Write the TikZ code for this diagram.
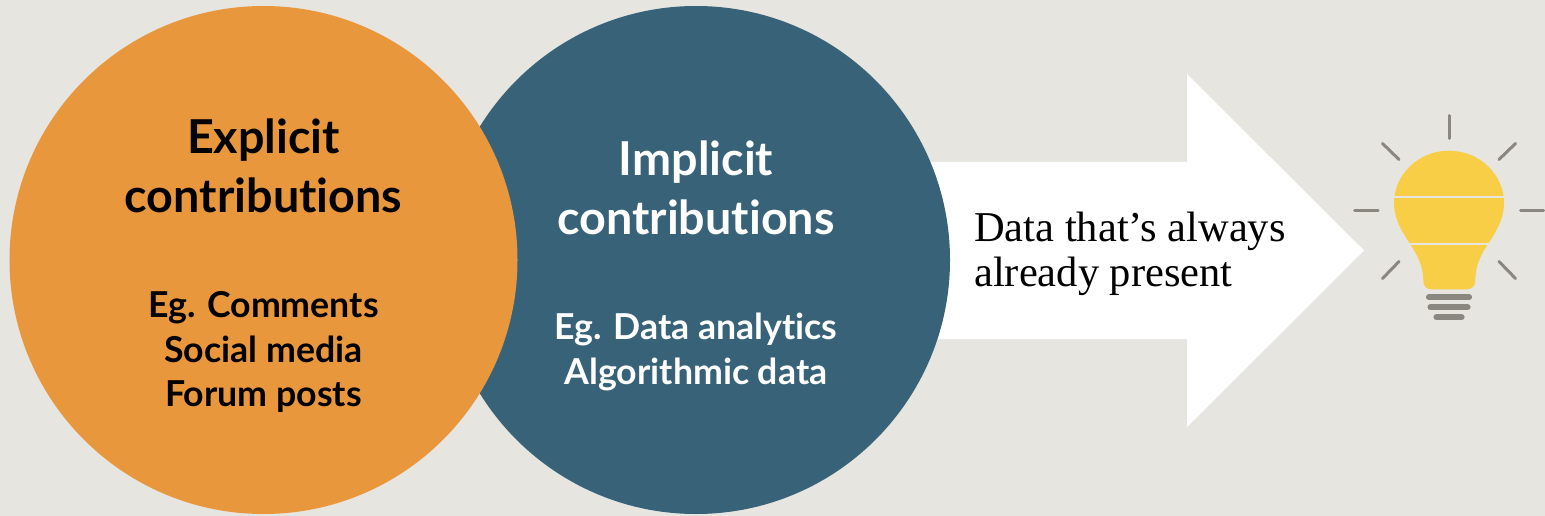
\documentclass[tikz,border=0pt]{standalone}
\usepackage{fontspec}
\setmainfont[Ligatures=CommonOff]{Lato}
\newfontfamily\bodyserif{Liberation Serif}
\definecolor{bgc}{HTML}{E6E5E0}
\definecolor{orangec}{HTML}{E9973D}
\definecolor{bluec}{HTML}{376278}
\definecolor{bulbc}{HTML}{F7CE46}
\definecolor{grayc}{HTML}{8A8780}
\tikzset{
  disc/.style={circle,minimum size=508pt,inner sep=0pt,draw=none},
  headtext/.style={font=\fontsize{46.7}{59}\selectfont\bfseries,align=center,inner sep=0pt},
  subtext/.style={font=\fontsize{35.7}{44.5}\selectfont\bfseries,align=center,inner sep=0pt},
  ray/.style={draw=grayc,line width=3pt,line cap=round},
  basebar/.style={draw=grayc,line cap=round},
  seam/.style={draw=bgc,line width=2pt}
}
\begin{document}
\begin{tikzpicture}[x=1pt,y=-1pt]
\useasboundingbox (0,0) rectangle (1545,516);
\fill[bgc] (0,0) rectangle (1545,516);
% arrow
\fill[white] (900,162) -- (1187,162) -- (1187,74) -- (1364,250.5) -- (1187,427) -- (1187,339) -- (900,339) -- cycle;
\node[disc,fill=bluec] (implicit) at (696,260) {};
\node[disc,fill=orangec] (explicit) at (263.5,260) {};
\node[headtext,text=black] (explicitT) at (263.5,166) {Explicit\\contributions};
\node[subtext,text=black] (explicitS) at (263.5,352) {Eg. Comments\\Social media\\Forum posts};
\node[headtext,text=white] (implicitT) at (696,188) {Implicit\\contributions};
\node[subtext,text=white] (implicitS) at (696,352) {Eg. Data analytics\\Algorithmic data};
\node[font=\fontsize{42.5}{45}\selectfont\bodyserif,align=left,inner sep=0pt,anchor=west,text=black] (datatext) at (974,254) {Data that’s always\\already present};
% bulb
\fill[bulbc] (1449,150.7) .. controls (1418,150.7) and (1394,175) .. (1394,203)
  .. controls (1394,220) and (1403,233) .. (1410,244)
  .. controls (1418,256) and (1423,266) .. (1423.3,280)
  .. controls (1423.3,286) and (1426,289.3) .. (1431,289.3)
  -- (1467,289.3)
  .. controls (1472,289.3) and (1475.3,286) .. (1475.3,280)
  .. controls (1475.5,266) and (1480,256) .. (1488,244)
  .. controls (1495,233) and (1504,220) .. (1504,203)
  .. controls (1504,175) and (1480,150.7) .. (1449,150.7) -- cycle;
\draw[seam] (1392,196.7) -- (1506,196.7);
\draw[seam] (1408,243.7) -- (1490,243.7);
\draw[ray] (1449,115.5) -- (1449,138.5);
\draw[ray] (1382.5,143.5) -- (1399,159.5);
\draw[ray] (1515.5,143.5) -- (1499,159.5);
\draw[ray] (1354.5,210.7) -- (1378,210.7);
\draw[ray] (1520.5,210.7) -- (1543.5,210.7);
\draw[ray] (1382.5,278.5) -- (1399,261.5);
\draw[ray] (1515.5,278.5) -- (1499,261.5);
\draw[basebar,line width=6.2pt] (1429,297.3) -- (1469,297.3);
\draw[basebar,line width=6.2pt] (1430.5,307.3) -- (1467.5,307.3);
\draw[basebar,line width=6.2pt] (1436.5,317.3) -- (1461.5,317.3);
\end{tikzpicture}
\end{document}
